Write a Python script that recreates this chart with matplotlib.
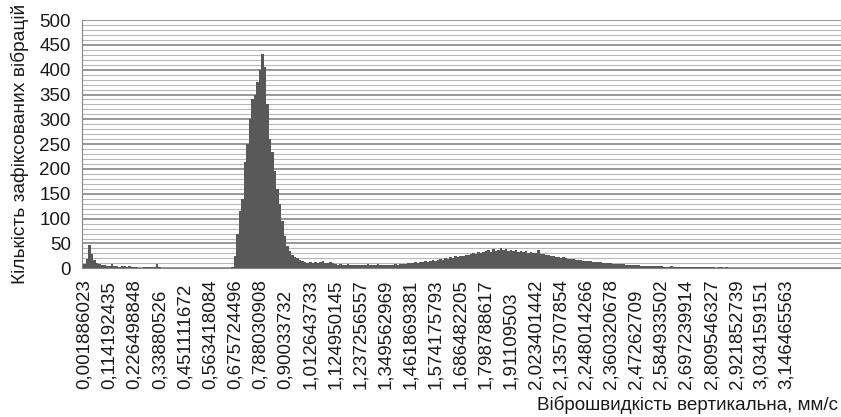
import numpy as np
import matplotlib
matplotlib.use("Agg")
import matplotlib.pyplot as plt
from matplotlib.ticker import MultipleLocator

plt.rcParams['font.family'] = ['Liberation Sans', 'DejaVu Sans']

# histogram counts, 10 bins per labelled interval
counts = [
    8, 18, 47, 28, 16, 11, 8, 6, 7, 5,
    4, 8, 5, 4, 3, 5, 4, 3, 4, 3,
    2, 2, 1, 1, 2, 2, 3, 2, 3, 9,
    2, 0, 0, 0, 0, 0, 0, 0, 0, 0,
    0, 0, 0, 0, 0, 0, 0, 0, 0, 0,
    0, 0, 0, 0, 0, 0, 0, 0, 0, 2,
    25, 70, 115, 140, 215, 250, 300, 340, 350, 375,
    400, 431, 405, 330, 260, 235, 195, 160, 130, 95,
    65, 45, 35, 27, 22, 20, 17, 14, 12, 10,
    12, 11, 13, 10, 12, 15, 11, 10, 12, 10,
    8, 7, 8, 6, 7, 8, 6, 7, 6, 7,
    6, 7, 6, 8, 7, 6, 7, 8, 7, 6,
    6, 7, 6, 7, 8, 7, 8, 9, 8, 10,
    10, 11, 12, 11, 13, 12, 14, 13, 15, 16,
    15, 17, 18, 17, 20, 19, 22, 21, 24, 23,
    25, 24, 27, 26, 28, 30, 29, 32, 31, 33,
    34, 36, 33, 38, 35, 37, 40, 36, 38, 35,
    37, 34, 36, 33, 35, 32, 34, 31, 33, 30,
    31, 36, 29, 28, 27, 26, 25, 24, 23, 22,
    21, 22, 20, 19, 18, 18, 17, 16, 16, 15,
    15, 14, 14, 13, 13, 12, 12, 11, 11, 10,
    10, 9, 9, 8, 8, 8, 7, 7, 7, 6,
    6, 6, 5, 5, 5, 5, 4, 4, 4, 4,
    4, 3, 3, 3, 4, 3, 3, 3, 3, 2,
    3, 2, 3, 2, 2, 3, 2, 2, 2, 2,
    2, 2, 1, 2, 2, 1, 2, 1, 1, 1,
    1, 1, 0, 1, 0, 0, 1, 0, 0, 0,
    0, 0, 0, 0, 0, 0, 0, 0, 0, 0,
    0, 0, 0, 1, 0, 0, 0, 0, 0, 0,
    0, 0, 0, 0, 0, 0, 0, 0, 0, 0,
    0, 0,
]

tick_labels = [
    "0,001886023", "0,114192435", "0,226498848", "0,33880526",
    "0,451111672", "0,563418084", "0,675724496", "0,788030908",
    "0,90033732", "1,012643733", "1,124950145", "1,237256557",
    "1,349562969", "1,461869381", "1,574175793", "1,686482205",
    "1,798788617", "1,91109503", "2,023401442", "2,135707854",
    "2,248014266", "2,360320678", "2,47262709", "2,584933502",
    "2,697239914", "2,809546327", "2,921852739", "3,034159151",
    "3,146465563",
]
bins_per_label = 10

fig = plt.figure(figsize=(8.41, 4.17), dpi=100)
ax = fig.add_axes([0.0975, 0.3566, 0.9025, 0.5954])

x = np.arange(len(counts))
ax.bar(x, counts, width=1.0, color='#595959', linewidth=0, zorder=3)

ax.set_ylim(0, 500)
ax.set_xlim(-1.0, len(counts) - 0.4)
ax.yaxis.set_major_locator(MultipleLocator(50))
ax.yaxis.set_minor_locator(MultipleLocator(10))
ax.grid(which='major', axis='y', color='#858585', linewidth=1.2, zorder=0)
ax.grid(which='minor', axis='y', color='#b8b8b8', linewidth=0.8, zorder=0)
ax.set_axisbelow(True)

ax.set_xticks(np.arange(len(tick_labels)) * bins_per_label)
ax.set_xticklabels(tick_labels, rotation=90, ha='center', va='bottom')
ax.tick_params(axis='x', length=0, pad=87, labelsize=13.5, colors='#1a1a1a')
ax.tick_params(axis='y', which='both', length=0, pad=8, labelsize=13.5, colors='#1a1a1a')

for side in ['top', 'right']:
    ax.spines[side].set_visible(False)
ax.spines['left'].set_color('#858585')
ax.spines['bottom'].set_color('#858585')

ax.set_ylabel("Кількість зафіксованих вібрацій", fontsize=13.8, color='#1a1a1a')
ax.yaxis.set_label_coords(-0.07, 0.5)
ax.set_xlabel("Віброшвидкість вертикальна, мм/с", fontsize=13.6, color='#1a1a1a', ha='right')
ax.xaxis.set_label_coords(0.996, -0.512)

fig.savefig("out.png", dpi=100)
